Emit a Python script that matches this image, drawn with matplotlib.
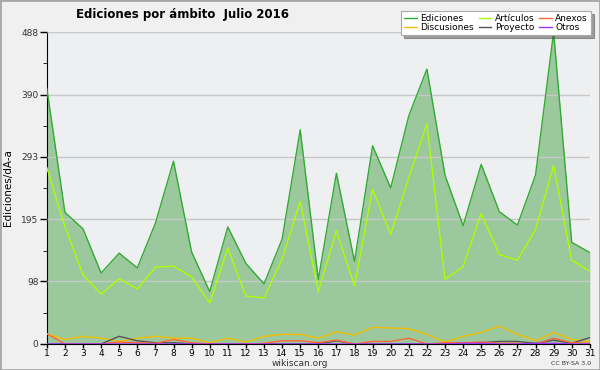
import numpy as np
import matplotlib
matplotlib.use('Agg')
import matplotlib.pyplot as plt
from matplotlib.ticker import FixedLocator

# daily edit counts, July 2016
days = list(range(1, 32))
ediciones = [400, 206, 180, 111, 142, 119, 189, 286, 144, 82, 183, 126, 94, 164, 335, 101,
             267, 129, 310, 244, 357, 430, 264, 185, 281, 207, 186, 264, 488, 159, 143]
articulos = [276, 184, 108, 78, 102, 86, 120, 122, 105, 64, 150, 75, 72, 133, 223, 82,
             177, 91, 242, 171, 260, 344, 101, 121, 204, 140, 131, 179, 279, 131, 114]
discusiones = [16, 7, 12, 9, 4, 9, 12, 9, 9, 2, 9, 3, 12, 15, 15, 9,
               19, 14, 26, 25, 24, 15, 3, 12, 18, 28, 15, 5, 18, 7, 4]
anexos = [16, 0, 0, 0, 3, 2, 1, 7, 2, 0, 0, 0, 1, 5, 5, 2,
          6, 0, 4, 4, 9, 0, 2, 2, 3, 1, 1, 0, 9, 2, 1]
proyecto = [0, 0, 0, 0, 12, 5, 2, 2, 0, 0, 0, 0, 0, 0, 0, 0,
            5, 0, 0, 0, 0, 0, 0, 0, 2, 4, 4, 1, 6, 1, 10]
otros = [0, 0, 0, 0, 0, 0, 0, 0, 0, 0, 0, 0, 0, 0, 0, 0,
         0, 0, 0, 0, 0, 0, 0, 1, 1, 0, 0, 1, 1, 0, 0]
yticks = [0, 98, 195, 293, 390, 488]

fig = plt.figure(figsize=(6, 3.7), dpi=100, facecolor='#f0f0f0')
fig.patches.append(plt.Rectangle((0, 0), 1, 1, transform=fig.transFigure,
                                 fill=False, edgecolor='#a8a8a8', linewidth=2))
ax = fig.add_axes([0.078, 0.0703, 0.905, 0.8432])
ax.set_facecolor('#eeeff1')

ax.fill_between(days, ediciones, 0, color='#3a9a3a', alpha=0.45, linewidth=0, zorder=2)
ax.plot(days, ediciones, color='#33aa33', lw=1, label='Ediciones', zorder=3)
ax.plot(days, discusiones, color='#f0c000', lw=1, label='Discusiones', zorder=3)
ax.plot(days, articulos, color='#aaff00', lw=1, label='Artículos', zorder=3)
ax.plot(days, proyecto, color='#555555', lw=1, label='Proyecto', zorder=3)
ax.plot(days, anexos, color='#ff6633', lw=1, label='Anexos', zorder=3)
ax.plot(days, otros, color='#9933ff', lw=1, label='Otros', zorder=3)

ax.set_xlim(1, 31)
ax.set_ylim(0, 488)
ax.set_xticks(days)
ax.set_yticks(yticks)
ax.yaxis.set_minor_locator(FixedLocator([49, 146, 244, 341, 439]))
ax.tick_params(axis='y', labelsize=6.5, labelcolor='#333333', length=5, width=1, pad=1)
ax.tick_params(axis='x', labelsize=6.5, length=3, width=1, pad=0.5)
ax.tick_params(axis='y', which='minor', length=3)
ax.grid(axis='y', color='#c8c8c8', lw=1, zorder=2.5)
ax.set_axisbelow(False)
for s in ['top', 'right']:
    ax.spines[s].set_visible(False)
ax.set_ylabel('Ediciones/dÃ-a', fontsize=7.5, labelpad=6)

fig.text(0.305, 0.962, 'Ediciones por ámbito  Julio 2016', fontsize=8.5,
         fontweight='bold', ha='center', va='center')
fig.text(0.5, 0.018, 'wikiscan.org', fontsize=6.5, ha='center', va='center', color='#333333')
fig.text(0.952, 0.018, 'CC BY-SA 3.0', fontsize=4.5, ha='center', va='center', color='#333333')

leg = fig.legend(ncol=3, loc='upper right', bbox_to_anchor=(0.985, 0.97),
                 fontsize=6.5, frameon=True, fancybox=False, shadow=True,
                 handlelength=1.4, handletextpad=0.4, columnspacing=0.5,
                 labelspacing=0.0, borderpad=0.35, borderaxespad=0)
leg.get_frame().set_edgecolor('#aaaaaa')
leg.get_frame().set_linewidth(0.8)

fig.savefig('out.png', dpi=100, facecolor=fig.get_facecolor())
